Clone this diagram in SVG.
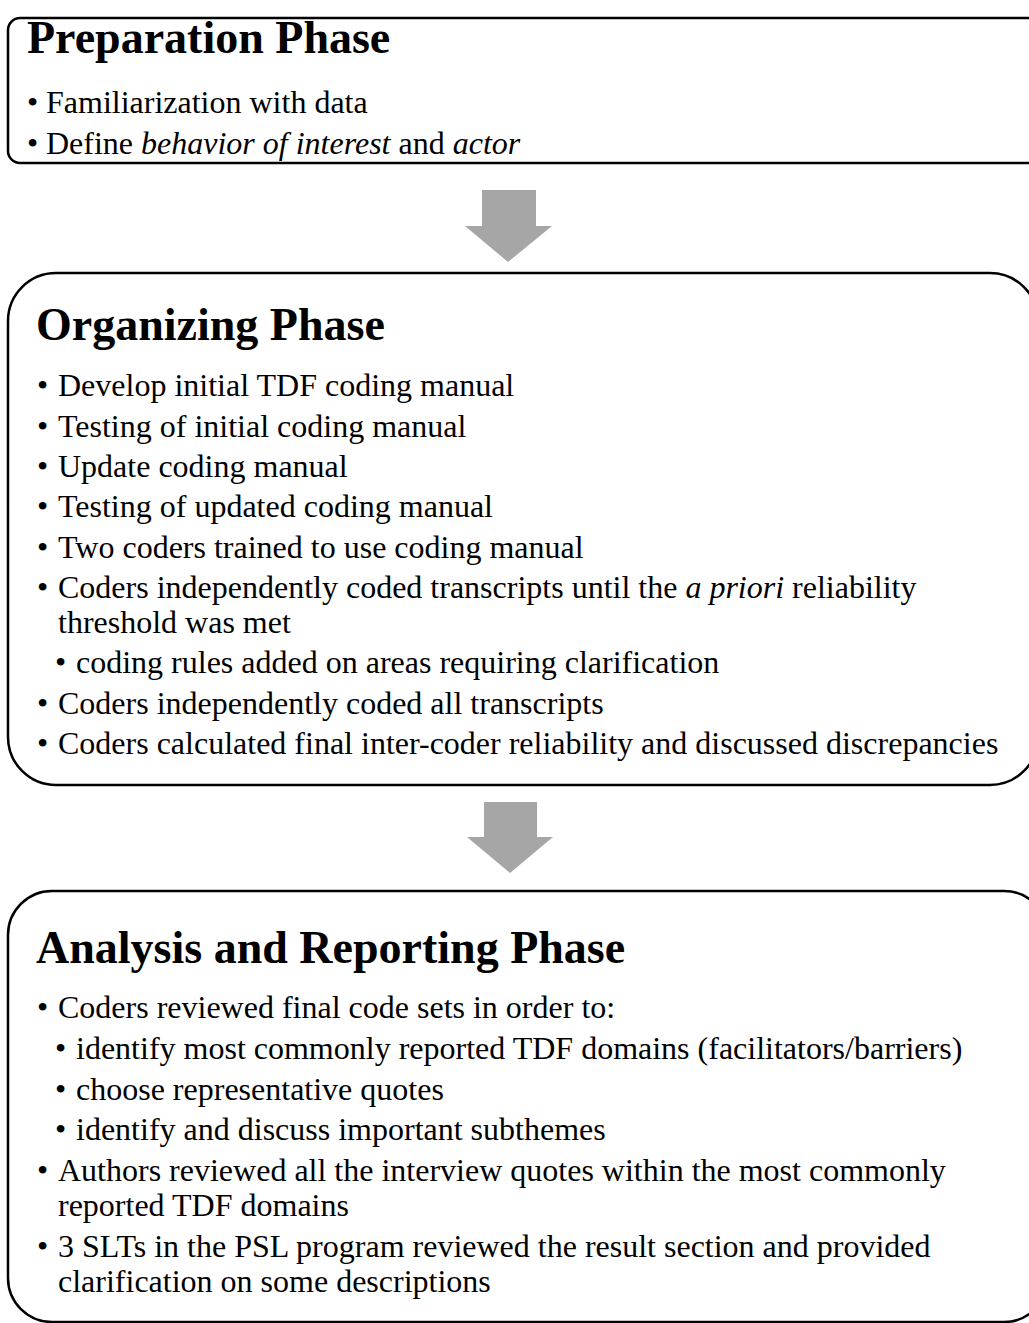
<svg xmlns="http://www.w3.org/2000/svg" width="1029" height="1323" viewBox="0 0 1029 1323">
  <style>
    .box { fill: #ffffff; stroke: #000000; stroke-width: 2.5; }
    .title { font-family: "Liberation Serif", "Times New Roman", serif; font-weight: bold; font-size: 46px; fill: #000000; }
    .body { font-family: "Liberation Serif", "Times New Roman", serif; font-size: 32px; fill: #000000; }
    .it { font-style: italic; }
    .arrow { fill: #a6a6a6; }
  </style>
  <rect x="0" y="0" width="1029" height="1323" fill="#ffffff"/>

  <!-- Phase 1 -->
  <g id="preparation-phase">
    <rect class="box" x="8" y="18" width="1040" height="145" rx="12" ry="12"/>
    <text class="title" x="27" y="53">Preparation Phase</text>
    <text class="body" x="27" y="113">•</text>
    <text class="body" x="46" y="113">Familiarization with data</text>
    <text class="body" x="27" y="154">•</text>
    <text class="body" x="46" y="154">Define <tspan class="it">behavior of interest</tspan> and <tspan class="it">actor</tspan></text>
  </g>

  <!-- Phase 2 -->
  <g id="organizing-phase">
    <rect class="box" x="8" y="273" width="1030" height="512" rx="48" ry="48"/>
    <text class="title" x="36" y="340">Organizing Phase</text>
    <g class="body">
      <text x="37" y="396">•</text><text x="58" y="396">Develop initial TDF coding manual</text>
      <text x="37" y="437">•</text><text x="58" y="437">Testing of initial coding manual</text>
      <text x="37" y="477">•</text><text x="58" y="477">Update coding manual</text>
      <text x="37" y="517">•</text><text x="58" y="517">Testing of updated coding manual</text>
      <text x="37" y="558">•</text><text x="58" y="558">Two coders trained to use coding manual</text>
      <text x="37" y="598">•</text><text x="58" y="598">Coders independently coded transcripts until the <tspan class="it">a priori</tspan> reliability</text>
      <text x="58" y="633">threshold was met</text>
      <text x="55" y="673">•</text><text x="76" y="673">coding rules added on areas requiring clarification</text>
      <text x="37" y="714">•</text><text x="58" y="714">Coders independently coded all transcripts</text>
      <text x="37" y="754">•</text><text x="58" y="754">Coders calculated final inter-coder reliability and discussed discrepancies</text>
    </g>
  </g>

  <!-- Phase 3 -->
  <g id="analysis-reporting-phase">
    <rect class="box" x="8" y="891" width="1040" height="431" rx="44" ry="44"/>
    <text class="title" x="36" y="963">Analysis and Reporting Phase</text>
    <g class="body">
      <text x="37" y="1018">•</text><text x="58" y="1018">Coders reviewed final code sets in order to:</text>
      <text x="55" y="1059">•</text><text x="76" y="1059">identify most commonly reported TDF domains (facilitators/barriers)</text>
      <text x="55" y="1100">•</text><text x="76" y="1100">choose representative quotes</text>
      <text x="55" y="1140">•</text><text x="76" y="1140">identify and discuss important subthemes</text>
      <text x="37" y="1181">•</text><text x="58" y="1181">Authors reviewed all the interview quotes within the most commonly</text>
      <text x="58" y="1216">reported TDF domains</text>
      <text x="37" y="1257">•</text><text x="58" y="1257">3 SLTs in the PSL program reviewed the result section and provided</text>
      <text x="58" y="1292">clarification on some descriptions</text>
    </g>
  </g>

  <!-- Block arrows between phases -->
  <g id="connectors">
    <polygon class="arrow" points="482,190 536,190 536,226 552,226 508,262 465,226 482,226"/>
    <polygon class="arrow" points="484,802 537,802 537,837 553,837 510,873 467,837 484,837"/>
  </g>
</svg>
